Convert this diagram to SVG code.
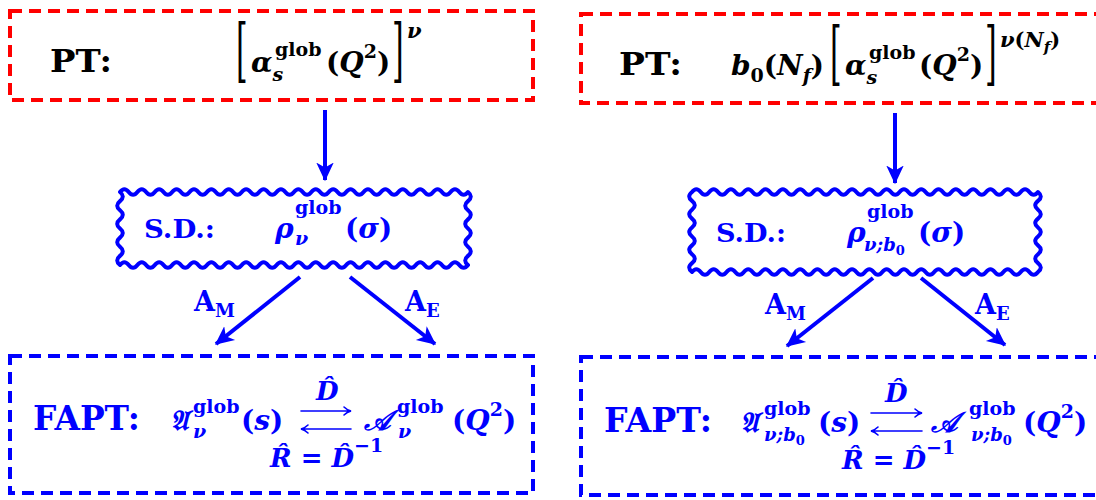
<svg xmlns="http://www.w3.org/2000/svg" width="1096" height="500" viewBox="0 0 1096 500">
<style>
.b{font-family:"DejaVu Serif","Liberation Serif",serif;font-weight:bold;font-style:normal}
.bi{font-family:"DejaVu Serif","Liberation Serif",serif;font-weight:bold;font-style:italic}
.rg{font-family:"DejaVu Serif","Liberation Serif",serif;font-weight:normal;font-style:normal}
.blk{fill:#000}
.blue{fill:#0000ff}
.rbox{fill:none;stroke:#ff0000;stroke-width:4;stroke-dasharray:12 7}
.bbox{fill:none;stroke:#0000ff;stroke-width:4;stroke-dasharray:12 7}
.wave{fill:none;stroke:#0000ff;stroke-width:4;stroke-linejoin:round}
.conn{fill:none;stroke:#0000ff;stroke-width:4}
.thin{fill:none;stroke:#0000ff;stroke-width:1.6;stroke-linecap:round}
</style>
<defs>
<marker id="ah" markerUnits="userSpaceOnUse" markerWidth="20" markerHeight="20" refX="14" refY="7" orient="auto" viewBox="0 0 16 14">
<path d="M0,0 L15,7 L0,14 L4,7 z" fill="#0000ff"/>
</marker>
</defs>

<g id="pt-left">
<rect class="rbox" x="10" y="11" width="523" height="89"/>
<text class="b blk" x="50" y="72" font-size="32" textLength="62" lengthAdjust="spacingAndGlyphs">PT:</text>
<text class="rg blk" font-size="30" transform="translate(236,74) scale(1,2.3)">[</text>
<text class="bi blk" font-size="28"><tspan x="251" y="72">α</tspan><tspan y="81" font-size="19">s</tspan><tspan class="b" x="275" y="56" font-size="19">glob</tspan><tspan class="b" x="326" y="72">(</tspan><tspan y="72">Q</tspan><tspan class="b" y="58" font-size="19">2</tspan><tspan class="b" y="72">)</tspan></text>
<text class="rg blk" font-size="30" transform="translate(392,74) scale(1,2.3)">]</text>
<text class="bi blk" x="407" y="38" font-size="21">ν</text>
</g>

<g id="pt-right">
<rect class="rbox" x="581" y="14" width="530" height="89"/>
<text class="b blk" x="619" y="75" font-size="32" textLength="63" lengthAdjust="spacingAndGlyphs">PT:</text>
<text class="bi blk" font-size="28"><tspan x="731" y="75">b</tspan><tspan class="b" y="82" font-size="19">0</tspan><tspan class="b" y="75">(</tspan><tspan y="75">N</tspan><tspan y="82" font-size="19">f</tspan><tspan class="b" y="75">)</tspan></text>
<text class="rg blk" font-size="30" transform="translate(830,77) scale(1,2.3)">[</text>
<text class="bi blk" font-size="28"><tspan x="845" y="75">α</tspan><tspan y="84" font-size="19">s</tspan><tspan class="b" x="869" y="59" font-size="19">glob</tspan><tspan class="b" x="919" y="75">(</tspan><tspan y="75">Q</tspan><tspan class="b" y="61" font-size="19">2</tspan><tspan class="b" y="75">)</tspan></text>
<text class="rg blk" font-size="30" transform="translate(985,77) scale(1,2.3)">]</text>
<text class="bi blk" font-size="21"><tspan x="1000" y="47">ν</tspan><tspan class="b">(</tspan><tspan>N</tspan><tspan y="52" font-size="15">f</tspan><tspan class="b" y="47">)</tspan></text>
</g>

<g id="sd-left">
<path class="wave" d="M120,192 q4.35,-5.6 8.7,0 t8.7,0 t8.7,0 t8.7,0 t8.7,0 t8.7,0 t8.7,0 t8.7,0 t8.7,0 t8.7,0 t8.7,0 t8.7,0 t8.7,0 t8.7,0 t8.7,0 t8.7,0 t8.7,0 t8.7,0 t8.7,0 t8.7,0 t8.7,0 t8.7,0 t8.7,0 t8.7,0 t8.7,0 t8.7,0 t8.7,0 t8.7,0 t8.7,0 t8.7,0 t8.7,0 t8.7,0 t8.7,0 t8.7,0 t8.7,0 t8.7,0 t8.7,0 t8.7,0 t8.7,0 t8.7,0 q5.6,4.5625 0,9.125 t0,9.125 t0,9.125 t0,9.125 t0,9.125 t0,9.125 t0,9.125 t0,9.125 q-4.35,5.6 -8.7,0 t-8.7,0 t-8.7,0 t-8.7,0 t-8.7,0 t-8.7,0 t-8.7,0 t-8.7,0 t-8.7,0 t-8.7,0 t-8.7,0 t-8.7,0 t-8.7,0 t-8.7,0 t-8.7,0 t-8.7,0 t-8.7,0 t-8.7,0 t-8.7,0 t-8.7,0 t-8.7,0 t-8.7,0 t-8.7,0 t-8.7,0 t-8.7,0 t-8.7,0 t-8.7,0 t-8.7,0 t-8.7,0 t-8.7,0 t-8.7,0 t-8.7,0 t-8.7,0 t-8.7,0 t-8.7,0 t-8.7,0 t-8.7,0 t-8.7,0 t-8.7,0 t-8.7,0 q-5.6,-4.5625 0,-9.125 t0,-9.125 t0,-9.125 t0,-9.125 t0,-9.125 t0,-9.125 t0,-9.125 t0,-9.125 z"/>
<text class="b blue" x="144" y="238" font-size="26" textLength="71" lengthAdjust="spacingAndGlyphs">S.D.:</text>
<text class="bi blue" font-size="28"><tspan x="275" y="238">ρ</tspan><tspan class="b" x="295" y="214" font-size="19">glob</tspan><tspan x="295" y="245" font-size="19">ν</tspan><tspan class="b" x="345" y="238">(</tspan><tspan y="238">σ</tspan><tspan class="b" y="238">)</tspan></text>
</g>

<g id="sd-right">
<path class="wave" d="M692,192 q4.325,-5.6 8.65,0 t8.65,0 t8.65,0 t8.65,0 t8.65,0 t8.65,0 t8.65,0 t8.65,0 t8.65,0 t8.65,0 t8.65,0 t8.65,0 t8.65,0 t8.65,0 t8.65,0 t8.65,0 t8.65,0 t8.65,0 t8.65,0 t8.65,0 t8.65,0 t8.65,0 t8.65,0 t8.65,0 t8.65,0 t8.65,0 t8.65,0 t8.65,0 t8.65,0 t8.65,0 t8.65,0 t8.65,0 t8.65,0 t8.65,0 t8.65,0 t8.65,0 t8.65,0 t8.65,0 t8.65,0 t8.65,0 q5.6,4.4444 0,8.8889 t0,8.8889 t0,8.8889 t0,8.8889 t0,8.8889 t0,8.8889 t0,8.8889 t0,8.8889 t0,8.8889 q-4.325,5.6 -8.65,0 t-8.65,0 t-8.65,0 t-8.65,0 t-8.65,0 t-8.65,0 t-8.65,0 t-8.65,0 t-8.65,0 t-8.65,0 t-8.65,0 t-8.65,0 t-8.65,0 t-8.65,0 t-8.65,0 t-8.65,0 t-8.65,0 t-8.65,0 t-8.65,0 t-8.65,0 t-8.65,0 t-8.65,0 t-8.65,0 t-8.65,0 t-8.65,0 t-8.65,0 t-8.65,0 t-8.65,0 t-8.65,0 t-8.65,0 t-8.65,0 t-8.65,0 t-8.65,0 t-8.65,0 t-8.65,0 t-8.65,0 t-8.65,0 t-8.65,0 t-8.65,0 t-8.65,0 q-5.6,-4.4444 0,-8.8889 t0,-8.8889 t0,-8.8889 t0,-8.8889 t0,-8.8889 t0,-8.8889 t0,-8.8889 t0,-8.8889 t0,-8.8889 z"/>
<text class="b blue" x="716" y="242" font-size="26" textLength="70" lengthAdjust="spacingAndGlyphs">S.D.:</text>
<text class="bi blue" font-size="28"><tspan x="847" y="242">ρ</tspan><tspan class="b" x="867" y="218" font-size="19">glob</tspan><tspan x="864" y="251" font-size="18">ν;b</tspan><tspan class="b" y="255" font-size="13">0</tspan><tspan class="b" x="918" y="242">(</tspan><tspan y="242">σ</tspan><tspan class="b" y="242">)</tspan></text>
</g>

<g id="fapt-left">
<rect class="bbox" x="10" y="356" width="523" height="137"/>
<text class="b blue" x="33" y="430" font-size="33" textLength="107" lengthAdjust="spacingAndGlyphs">FAPT:</text>
<text class="bi blue" font-size="28"><tspan x="170" y="430">𝔄</tspan><tspan class="b" x="193" y="413" font-size="19">glob</tspan><tspan x="193" y="438" font-size="19">ν</tspan><tspan class="b" x="241" y="430">(</tspan><tspan y="430">s</tspan><tspan class="b" y="430">)</tspan></text>
<text class="bi blue" x="316" y="400" font-size="26">D̂</text>
<path class="thin" d="M301,411 H350 M344,407 Q347,410 351,411 Q347,412 344,415 M351,429 H302 M308,425 Q305,428 301,429 Q305,430 308,433"/>
<text class="bi blue" font-size="28"><tspan x="364" y="430">𝒜</tspan></text>
<text class="bi blue" font-size="19"><tspan class="b" x="397" y="413">glob</tspan><tspan x="398" y="438">ν</tspan></text>
<text class="bi blue" font-size="28"><tspan class="b" x="452" y="430">(</tspan><tspan y="430">Q</tspan><tspan class="b" y="416" font-size="19">2</tspan><tspan class="b" y="430">)</tspan></text>
<text class="bi blue" font-size="26"><tspan x="270" y="467">R̂</tspan><tspan class="b"> = </tspan><tspan>D̂</tspan><tspan class="b" y="452" font-size="19">−1</tspan></text>
</g>

<g id="fapt-right">
<rect class="bbox" x="581" y="357" width="530" height="138"/>
<text class="b blue" x="604" y="432" font-size="33" textLength="108" lengthAdjust="spacingAndGlyphs">FAPT:</text>
<text class="bi blue" font-size="28"><tspan x="740" y="432">𝔄</tspan><tspan class="b" x="764" y="415" font-size="19">glob</tspan><tspan x="764" y="441" font-size="18">ν;b</tspan><tspan class="b" y="445" font-size="13">0</tspan><tspan class="b" x="818" y="432">(</tspan><tspan y="432">s</tspan><tspan class="b" y="432">)</tspan></text>
<text class="bi blue" x="885" y="402" font-size="26">D̂</text>
<path class="thin" d="M871,413 H921 M915,409 Q918,412 922,413 Q918,414 915,417 M922,431 H872 M878,427 Q875,430 871,431 Q875,432 878,435"/>
<text class="bi blue" font-size="28"><tspan x="931" y="432">𝒜</tspan></text>
<text class="bi blue" font-size="18"><tspan class="b" x="969" y="415" font-size="19">glob</tspan><tspan x="971" y="441">ν;b</tspan><tspan class="b" y="445" font-size="13">0</tspan></text>
<text class="bi blue" font-size="28"><tspan class="b" x="1023" y="432">(</tspan><tspan y="432">Q</tspan><tspan class="b" y="418" font-size="19">2</tspan><tspan class="b" y="432">)</tspan></text>
<text class="bi blue" font-size="26"><tspan x="842" y="469">R̂</tspan><tspan class="b"> = </tspan><tspan>D̂</tspan><tspan class="b" y="454" font-size="19">−1</tspan></text>
</g>

<g id="connectors">
<line class="conn" x1="325" y1="110" x2="325" y2="180" marker-end="url(#ah)"/>
<line class="conn" x1="895" y1="113" x2="895" y2="183" marker-end="url(#ah)"/>
<line class="conn" x1="300" y1="277" x2="216" y2="344" marker-end="url(#ah)"/>
<line class="conn" x1="350" y1="277" x2="435" y2="344" marker-end="url(#ah)"/>
<line class="conn" x1="873" y1="278" x2="787" y2="346" marker-end="url(#ah)"/>
<line class="conn" x1="921" y1="278" x2="1005" y2="345" marker-end="url(#ah)"/>
<text class="b blue" font-size="27"><tspan x="194" y="311">A</tspan><tspan y="317" font-size="18">M</tspan></text>
<text class="b blue" font-size="27"><tspan x="405" y="311">A</tspan><tspan y="317" font-size="18">E</tspan></text>
<text class="b blue" font-size="27"><tspan x="765" y="314">A</tspan><tspan y="320" font-size="18">M</tspan></text>
<text class="b blue" font-size="27"><tspan x="975" y="314">A</tspan><tspan y="320" font-size="18">E</tspan></text>
</g>
</svg>
